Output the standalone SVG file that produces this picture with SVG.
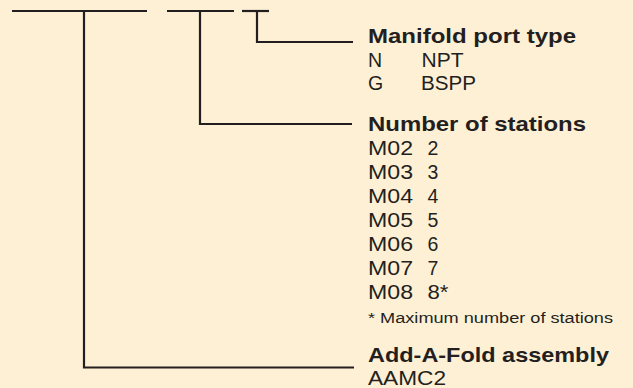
<svg xmlns="http://www.w3.org/2000/svg" width="633" height="388" viewBox="0 0 633 388">
<style>
.ln{stroke:#231f20;stroke-width:2.2;fill:none;stroke-linecap:butt}
.h{font-family:"Liberation Sans",Arial,sans-serif;font-weight:bold;font-size:20.5px;fill:#231f20}
.t{font-family:"Liberation Sans",Arial,sans-serif;font-size:19.5px;fill:#231f20}
.f{font-family:"Liberation Sans",Arial,sans-serif;font-size:15.5px;fill:#231f20}
</style>
<rect width="633" height="388" fill="#fef0d5"/>
<g id="connectors">
<line class="ln" x1="12" y1="11" x2="147" y2="11"/>
<line class="ln" x1="167" y1="11" x2="234" y2="11"/>
<line class="ln" x1="242" y1="11" x2="269" y2="11"/>
<polyline class="ln" points="257,11 257,42 353,42"/>
<polyline class="ln" points="200,11 200,124 352,124"/>
<polyline class="ln" points="84,11 84,367.5 354,367.5"/>
</g>
<g id="port-type">
<text class="h" x="368" y="43" textLength="208" lengthAdjust="spacingAndGlyphs">Manifold port type</text>
<text class="t" x="368" y="66.5">N</text>
<text class="t" x="421.5" y="66.5" textLength="42" lengthAdjust="spacingAndGlyphs">NPT</text>
<text class="t" x="368" y="90">G</text>
<text class="t" x="421" y="90" textLength="55" lengthAdjust="spacingAndGlyphs">BSPP</text>
</g>
<g id="stations">
<text class="h" x="368" y="131" textLength="218" lengthAdjust="spacingAndGlyphs">Number of stations</text>
<text class="t" x="368" y="155" textLength="45" lengthAdjust="spacingAndGlyphs">M02</text><text class="t" x="427.5" y="155">2</text>
<text class="t" x="368" y="179" textLength="45" lengthAdjust="spacingAndGlyphs">M03</text><text class="t" x="427.5" y="179">3</text>
<text class="t" x="368" y="203" textLength="45" lengthAdjust="spacingAndGlyphs">M04</text><text class="t" x="427.5" y="203">4</text>
<text class="t" x="368" y="227" textLength="45" lengthAdjust="spacingAndGlyphs">M05</text><text class="t" x="427.5" y="227">5</text>
<text class="t" x="368" y="251" textLength="45" lengthAdjust="spacingAndGlyphs">M06</text><text class="t" x="427.5" y="251">6</text>
<text class="t" x="368" y="275" textLength="45" lengthAdjust="spacingAndGlyphs">M07</text><text class="t" x="427.5" y="275">7</text>
<text class="t" x="368" y="299" textLength="45" lengthAdjust="spacingAndGlyphs">M08</text><text class="t" x="427.5" y="299" textLength="21" lengthAdjust="spacingAndGlyphs">8*</text>
<text class="f" x="368" y="323" textLength="245" lengthAdjust="spacingAndGlyphs">* Maximum number of stations</text>
</g>
<g id="assembly">
<text class="h" x="368" y="362" textLength="241" lengthAdjust="spacingAndGlyphs">Add-A-Fold assembly</text>
<text class="t" x="368" y="384.5" textLength="78" lengthAdjust="spacingAndGlyphs">AAMC2</text>
</g>
</svg>
